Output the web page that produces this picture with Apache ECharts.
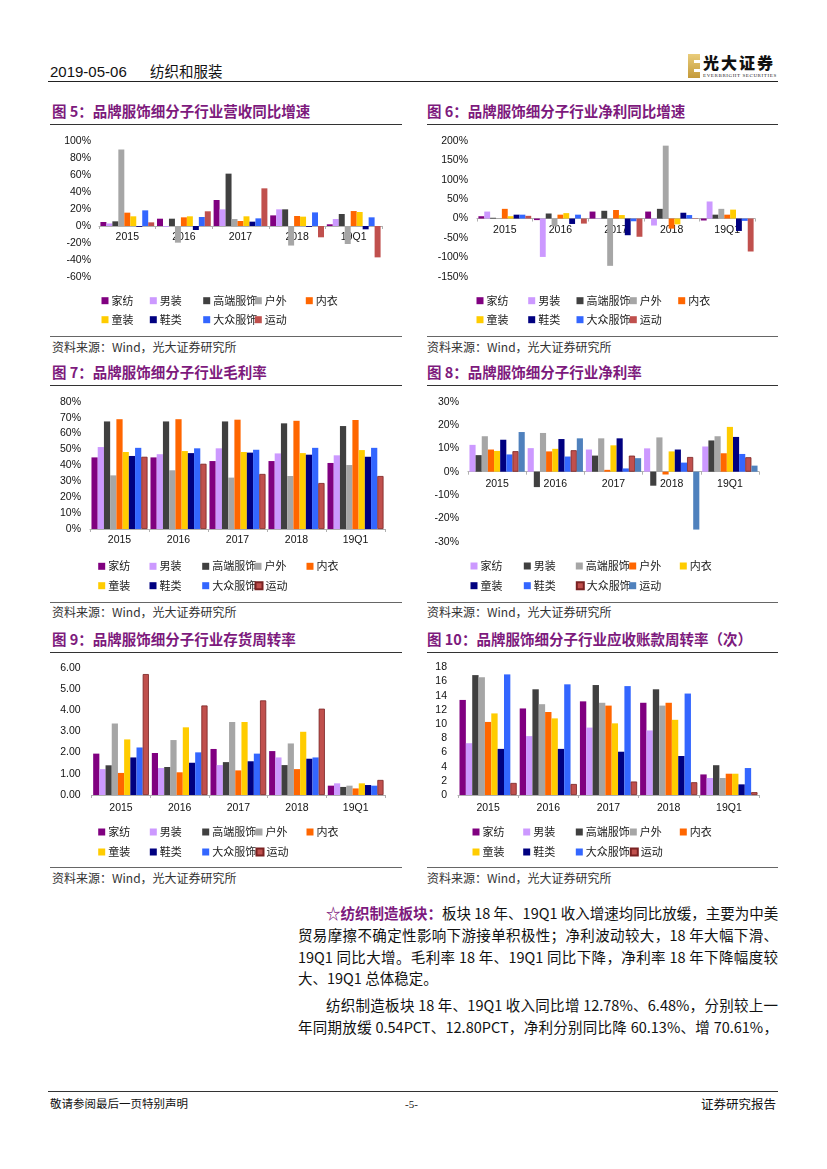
<!DOCTYPE html>
<html><head><meta charset="utf-8">
<script src="https://cdn.jsdelivr.net/npm/echarts@6/dist/echarts.min.js"></script>
<style>
html,body{margin:0;padding:0;background:#fff;}
body{width:827px;height:1169px;position:relative;overflow:hidden;font-family:"Noto Sans CJK SC","Liberation Sans",sans-serif;}
.t{position:absolute;white-space:nowrap;line-height:1;}
.hl{position:absolute;height:0;}
.ch{position:absolute;}
.title{color:#7D1A7D;font-weight:700;font-size:14.5px;}
.src{color:#333;font-size:12px;}
.body{position:absolute;font-size:14.5px;line-height:1;color:#111;text-align:justify;text-align-last:justify;white-space:nowrap;}
</style></head>
<body>
<div class="t" style="left:50px;top:64px;font-size:15px;font-family:'Liberation Sans',sans-serif;color:#111;">2019-05-06</div>
<div class="t" style="left:150px;top:64px;font-size:14.5px;color:#111;">纺织和服装</div>
<div style="position:absolute;left:688px;top:54px;width:12px;height:24px;background:linear-gradient(180deg,#E9CC7A,#C49A3A);"></div>
<div style="position:absolute;left:694px;top:60px;width:6px;height:3px;background:#fff;"></div>
<div style="position:absolute;left:694px;top:69px;width:6px;height:3px;background:#fff;"></div>
<div class="t" style="left:703px;top:54px;font-size:16px;font-weight:900;letter-spacing:2px;color:#111;">光大证券</div>
<div class="t" style="left:703px;top:73px;font-size:5px;letter-spacing:0.6px;color:#222;font-family:'Liberation Serif',serif;">EVERBRIGHT SECURITIES</div>
<div class="hl" style="left:48px;top:81px;width:730px;border-top:1.5px solid #222;"></div>

<div class="t title" style="left:52px;top:104px;">图 5：品牌服饰细分子行业营收同比增速</div>
<div class="t title" style="left:427px;top:104px;">图 6：品牌服饰细分子行业净利同比增速</div>
<div class="hl" style="left:50px;top:124px;width:352px;border-top:1.3px solid #333;"></div>
<div class="hl" style="left:427px;top:124px;width:351px;border-top:1.3px solid #333;"></div>
<div class="hl" style="left:50px;top:336px;width:352px;border-top:1px solid #666;"></div>
<div class="hl" style="left:427px;top:336px;width:351px;border-top:1px solid #666;"></div>
<div class="t src" style="left:52px;top:341px;">资料来源：Wind，光大证券研究所</div>
<div class="t src" style="left:427px;top:341px;">资料来源：Wind，光大证券研究所</div>

<div class="t title" style="left:52px;top:365px;">图 7：品牌服饰细分子行业毛利率</div>
<div class="t title" style="left:427px;top:365px;">图 8：品牌服饰细分子行业净利率</div>
<div class="hl" style="left:50px;top:385px;width:352px;border-top:1.3px solid #333;"></div>
<div class="hl" style="left:427px;top:385px;width:351px;border-top:1.3px solid #333;"></div>
<div class="hl" style="left:50px;top:602px;width:352px;border-top:1px solid #666;"></div>
<div class="hl" style="left:427px;top:602px;width:351px;border-top:1px solid #666;"></div>
<div class="t src" style="left:52px;top:606px;">资料来源：Wind，光大证券研究所</div>
<div class="t src" style="left:427px;top:606px;">资料来源：Wind，光大证券研究所</div>

<div class="t title" style="left:52px;top:632px;">图 9：品牌服饰细分子行业存货周转率</div>
<div class="t title" style="left:427px;top:632px;">图 10：品牌服饰细分子行业应收账款周转率（次）</div>
<div class="hl" style="left:50px;top:652px;width:352px;border-top:1.3px solid #333;"></div>
<div class="hl" style="left:427px;top:652px;width:351px;border-top:1.3px solid #333;"></div>
<div class="hl" style="left:50px;top:867px;width:352px;border-top:1px solid #666;"></div>
<div class="hl" style="left:427px;top:867px;width:351px;border-top:1px solid #666;"></div>
<div class="t src" style="left:52px;top:872px;">资料来源：Wind，光大证券研究所</div>
<div class="t src" style="left:427px;top:872px;">资料来源：Wind，光大证券研究所</div>

<div class="body" style="left:326px;top:906px;width:452px;"><span style="color:#7D1A7D;font-weight:700;">☆纺织制造板块：</span>板块 18 年、19Q1 收入增速均同比放缓，主要为中美</div>
<div class="body" style="left:298px;top:928px;width:480px;">贸易摩擦不确定性影响下游接单积极性；净利波动较大，18 年大幅下滑、</div>
<div class="body" style="left:298px;top:950px;width:480px;">19Q1 同比大增。毛利率 18 年、19Q1 同比下降，净利率 18 年下降幅度较</div>
<div class="body" style="left:298px;top:971px;text-align:left;text-align-last:left;">大、19Q1 总体稳定。</div>
<div class="body" style="left:326px;top:998px;width:452px;">纺织制造板块 18 年、19Q1 收入同比增 12.78%、6.48%，分别较上一</div>
<div class="body" style="left:298px;top:1020px;width:480px;">年同期放缓 0.54PCT、12.80PCT，净利分别同比降 60.13%、增 70.61%，</div>

<div class="hl" style="left:48px;top:1091px;width:730px;border-top:1px solid #333;"></div>
<div class="t" style="left:50px;top:1098px;font-size:11.5px;color:#111;">敬请参阅最后一页特别声明</div>
<div class="t" style="left:405px;top:1099px;font-size:11px;color:#111;font-family:'Liberation Serif',serif;">-5-</div>
<div class="t" style="left:701px;top:1098px;font-size:12.5px;color:#111;">证券研究报告</div>

<div id="c5" class="ch" style="left:40px;top:126px;width:375px;height:208px;"></div>
<div id="c6" class="ch" style="left:418px;top:126px;width:375px;height:208px;"></div>
<div id="c7" class="ch" style="left:40px;top:388px;width:375px;height:212px;"></div>
<div id="c8" class="ch" style="left:418px;top:388px;width:375px;height:212px;"></div>
<div id="c9" class="ch" style="left:40px;top:655px;width:375px;height:210px;"></div>
<div id="c10" class="ch" style="left:418px;top:655px;width:375px;height:210px;"></div>

<script>
// ---------- DATA ----------
const categories = ['2015', '2016', '2017', '2018', '19Q1'];
const seriesNames = ['家纺', '男装', '高端服饰', '户外', '内衣', '童装', '鞋类', '大众服饰', '运动'];

// 图5 营收同比增速 (%) — rows follow seriesNames
const revenueGrowth = [
  [4.7, 8.6, 30.6, 12.5, 2],
  [3, -1, 19.6, 19.6, 8.2],
  [5.5, 8.6, 61.6, 19.6, 14.1],
  [90, -19.6, 8.2, -23, -21.2],
  [15.7, 10.2, 5.9, 11.8, 17.6],
  [11.4, 11.4, 11.4, 11, 16.5],
  [-1, -4.7, 5.1, -1, -3.9],
  [18.4, 10.6, 9, 16, 10.2],
  [4.3, 17.3, 44.3, -13.3, -36.9]
];
// 图6 净利同比增速 (%)
const profitGrowth = [
  [6, -4, 18, 18, -5],
  [18, -99, 1, -18, 44],
  [2, 13, 20, 25, 10],
  [-1, -20, -122, 188, 25],
  [25, 10, 22, -26, 10],
  [6, 14, 9, -15, 23],
  [10, -14, -43, 15, -32],
  [10, 10, -7, 9, -6],
  [7, -13, -47, -1, -85]
];
// 图7 毛利率 (%)
const grossMargin = [
  [45, 45, 42.7, 42.7, 41.5],
  [51.5, 47, 50.7, 47.5, 46.3],
  [67.6, 67.6, 67.6, 66.4, 64.7],
  [33.7, 36.9, 32.3, 33.3, 40.2],
  [69, 69, 68.7, 68, 68.5],
  [48.4, 49, 48.4, 47.7, 49.6],
  [45.9, 47.7, 48, 46.7, 45.4],
  [51, 50.7, 49.8, 51, 51],
  [45.4, 41, 34.6, 28.9, 33.3]
];
// 图8 净利率 (%)
const netMargin = [
  [11.5, 10.1, 9.5, 10, 10.8],
  [7.1, -6.6, 6.9, -6, 13.4],
  [15.2, 16.6, 14.3, 14.7, 15.2],
  [9.5, 8.7, 0.8, -1.2, 7.9],
  [8.9, 9.8, 11.3, 8.7, 19.2],
  [13.7, 14, 14.3, 9.5, 14.9],
  [7.4, 6.5, 1.4, 3.9, 7.6],
  [8.8, 9.2, 6.9, 6.3, 6.2],
  [17, 14.3, 5.8, -24.8, 2.6]
];
// 图9 存货周转率
const inventoryTurnover = [
  [1.95, 1.98, 2.17, 2.07, 0.44],
  [1.22, 1.27, 1.41, 1.77, 0.55],
  [1.40, 1.32, 1.55, 1.41, 0.38],
  [3.37, 2.59, 3.44, 2.43, 0.44],
  [1.04, 1.07, 1.16, 1.22, 0.31],
  [2.62, 3.19, 3.44, 2.98, 0.55],
  [1.77, 1.52, 1.59, 1.71, 0.47],
  [2.24, 2.01, 1.95, 1.77, 0.44],
  [5.7, 4.22, 4.46, 4.07, 0.71]
];
// 图10 应收账款周转率（次）
const receivableTurnover = [
  [13.4, 12.2, 13.2, 13.0, 2.9],
  [7.3, 8.3, 9.5, 9.1, 2.4],
  [16.9, 14.9, 15.5, 14.9, 4.2],
  [16.6, 12.8, 13.0, 12.6, 2.4],
  [10.3, 11.7, 12.6, 13.0, 3.0],
  [11.5, 10.8, 10.1, 10.6, 3.0],
  [6.5, 6.5, 6.1, 5.5, 1.5],
  [17.0, 15.6, 15.35, 14.3, 3.8],
  [1.7, 1.55, 1.9, 1.8, 0.4]
];

// ---------- STYLES / LAYOUT ----------
const palA = ['#800080', '#CC99FF', '#404040', '#A6A6A6', '#FF6600', '#FFCC00', '#000080', '#3366FF', '#C0504D'];
const palB = ['#CC99FF', '#404040', '#A6A6A6', '#FF6600', '#FFCC00', '#000080', '#3366FF', '#C0504D', '#4F81BD'];
const axisFont = '"Liberation Sans", Arial, sans-serif';
const cjkFont = '"Noto Sans CJK SC", sans-serif';

function build(id, divL, divT, plot, yCfg, values, palette, borderIdx, legCols, legRows, labelMargin) {
  const el = document.getElementById(id);
  const chart = echarts.init(el, null, {renderer: 'canvas'});
  const legends = seriesNames.map((n, i) => {
    const col = i < 5 ? i : i - 5;
    const row = i < 5 ? 0 : 1;
    return {
      data: [n], left: legCols[col] - 3.5 - divL, top: legRows[row] - 6.5 - divT,
      icon: 'rect', itemWidth: 7, itemHeight: 7, padding: 0, itemGap: 0,
      selectedMode: false,
      textStyle: {fontSize: 11, color: '#222', fontFamily: cjkFont, padding: [0, 0, 0, -2]}
    };
  });
  const series = seriesNames.map((n, i) => ({
    name: n, type: 'bar', data: values[i], barGap: '0%', barCategoryGap: '5%',
    itemStyle: borderIdx.includes(i)
      ? {color: palette[i], borderColor: '#7A2222', borderWidth: 0.8}
      : {color: palette[i]},
    animation: false
  }));
  // move the category axis (line + labels) up to the zero line
  const h = plot[3] - plot[2];
  const zeroY = plot[2] + (yCfg.max / (yCfg.max - yCfg.min)) * h;
  const offset = -(plot[3] - zeroY);
  chart.setOption({
    animation: false,
    grid: {left: plot[0] - divL, top: plot[2] - divT, width: plot[1] - plot[0], height: h, containLabel: false, outerBoundsMode: 'none'},
    legend: legends,
    xAxis: {
      type: 'category', data: categories, position: 'bottom', offset: offset,
      axisLine: {show: true, onZero: false, lineStyle: {color: '#B0B0B0', width: 1.2}},
      axisTick: {show: true, length: 3, lineStyle: {color: '#B0B0B0'}},
      axisLabel: {fontSize: 10.5, color: '#111', fontFamily: axisFont, margin: labelMargin}
    },
    yAxis: {
      type: 'value', min: yCfg.min, max: yCfg.max, interval: yCfg.interval,
      axisLine: {show: false}, axisTick: {show: false}, splitLine: {show: false},
      axisLabel: {fontSize: 10.5, color: '#111', fontFamily: axisFont, margin: yCfg.margin, formatter: yCfg.fmt}
    },
    series: series
  });
}

const pct = v => v + '%';
build('c5', 40, 126, [99, 382, 141, 277], {min: -60, max: 100, interval: 20, fmt: pct, margin: 8},
  revenueGrowth, palA, [], [105, 153.3, 206.7, 258.3, 309.3], [301.7, 320.7], 6);
build('c6', 418, 126, [477, 755, 141, 276.7], {min: -150, max: 200, interval: 50, fmt: pct, margin: 9},
  profitGrowth, palA, [], [480, 531.7, 580, 633.3, 681.7], [301.7, 320.7], 6);
build('c7', 40, 388, [90, 385, 401.7, 529], {min: 0, max: 80, interval: 10, fmt: pct, margin: 9},
  grossMargin, palA, [8], [101.7, 153, 205.7, 258, 310], [567.3, 586.7], 6);
build('c8', 418, 388, [468, 759, 401.7, 541.7], {min: -30, max: 30, interval: 10, fmt: pct, margin: 9},
  netMargin, palB, [7], [474, 527.3, 579.3, 632.7, 683.3], [567, 586.7], 7);
build('c9', 40, 655, [91.7, 385, 667.7, 795], {min: 0, max: 6, interval: 1, fmt: v => v.toFixed(2), margin: 11},
  inventoryTurnover, palA, [8], [101.7, 153.3, 205.7, 259, 310], [833, 853], 8);
build('c10', 418, 655, [458, 759, 667.3, 795], {min: 0, max: 18, interval: 2, fmt: v => String(v), margin: 11},
  receivableTurnover, palA, [8], [476, 526.7, 579.3, 633.3, 683.3], [833, 853], 8);
</script>
</body></html>
